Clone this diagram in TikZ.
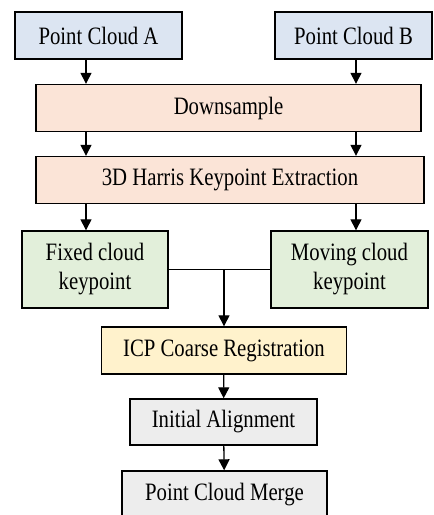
\documentclass[tikz,border=0pt]{standalone}
\usepackage{fontspec}
\setmainfont{Liberation Serif}[FakeStretch=0.83]
\usetikzlibrary{arrows.meta}
\definecolor{cloudblue}{HTML}{DCE5F2}
\definecolor{stepsalmon}{HTML}{FBE4D7}
\definecolor{keygreen}{HTML}{E2EFDA}
\definecolor{icpyellow}{HTML}{FFF2CC}
\definecolor{outgray}{HTML}{EDEDED}
\begin{document}
\begin{tikzpicture}[
    x=1pt, y=-1pt,
    font=\fontsize{25}{29}\selectfont,
    box/.style={rectangle, draw=black, line width=1.4pt, align=center, inner sep=0pt},
    cloud/.style={box, fill=cloudblue, minimum height=47pt},
    stage/.style={box, fill=stepsalmon, minimum height=47pt},
    keyp/.style={box, fill=keygreen, minimum height=77pt},
    reg/.style={box, fill=icpyellow, minimum height=47pt},
    result/.style={box, fill=outgray, minimum height=46pt},
    arrow/.style={-{Triangle[width=11pt,length=11pt]}, line width=1.3pt, black}
]
\useasboundingbox (0,0) rectangle (434,515);
\node[cloud, minimum width=167pt] (pca) at (98.5,35.5) {Point Cloud A};
\node[cloud, minimum width=157pt] (pcb) at (353.5,35.5) {Point Cloud B};
\node[stage, minimum width=385pt] (down) at (228.5,108) {Downsample};
\node[stage, minimum width=388pt] (harris) at (230,180) {3D Harris Keypoint Extraction};
\node[keyp, minimum width=146pt] (fixed) at (95,269.5) {Fixed cloud\\keypoint};
\node[keyp, minimum width=157pt] (moving) at (349.5,269.5) {Moving cloud\\keypoint};
\node[reg, minimum width=245pt] (icp) at (224,350.5) {ICP Coarse Registration};
\node[result, minimum width=187pt] (init) at (223.5,422) {Initial Alignment};
\node[result, minimum width=205pt, minimum height=47pt] (merge) at (224.5,494.5) {Point Cloud Merge};

% columns of the two clouds
\coordinate (colA) at (86,0);
\coordinate (colB) at (356,0);
\coordinate (join) at (fixed.east -| icp.north);

\draw[arrow] (pca.south -| colA) -- (down.north -| colA);
\draw[arrow] (pcb.south -| colB) -- (down.north -| colB);
\draw[arrow] (down.south -| colA) -- (harris.north -| colA);
\draw[arrow] (down.south -| colB) -- (harris.north -| colB);
\draw[arrow] (harris.south -| colA) -- (fixed.north -| colA);
\draw[arrow] (harris.south -| colB) -- (moving.north -| colB);
\draw[line width=1.3pt] (fixed.east) -- (moving.west);
\draw[arrow] (join) -- (icp.north);
\draw[arrow] (icp) -- (init);
\draw[arrow] (init) -- (merge);
\end{tikzpicture}
\end{document}
